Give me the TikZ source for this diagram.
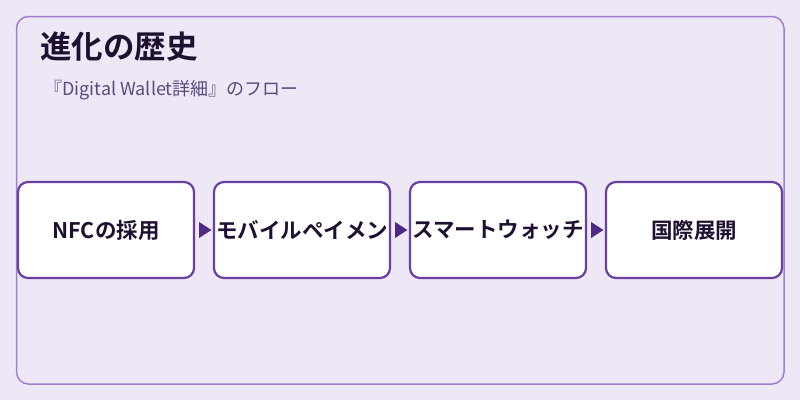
\documentclass[tikz,border=0pt]{standalone}
\usepackage{fontspec}
\setmainfont{Noto Sans CJK JP}
\newfontfamily\cjkb{Noto Sans CJK JP Bold}
\usetikzlibrary{arrows.meta}
\definecolor{bgc}{HTML}{EDE7F6}
\definecolor{framec}{HTML}{A07FD0}
\definecolor{boxc}{HTML}{6A3FA0}
\definecolor{arrc}{HTML}{4E2A84}
\definecolor{titc}{HTML}{1E1030}
\definecolor{subc}{HTML}{5A4A80}
\begin{document}
\begin{tikzpicture}[x=1pt,y=-1pt,
  stepbox/.style={draw=boxc,line width=2.2pt,fill=white,rounded corners=10pt,
    minimum width=176pt,minimum height=96pt,inner sep=0pt,
    font=\cjkb\fontsize{21.5}{24}\selectfont,text=titc},
  flowtip/.style={fill=arrc,draw=none}]
\fill[bgc] (0,0) rectangle (800,400);
\useasboundingbox (0,0) rectangle (800,400);
\draw[framec,line width=1.5pt,rounded corners=12pt] (16.5,16.5) rectangle (784,384);
\node[anchor=west,font=\cjkb\fontsize{31.5}{34}\selectfont,text=titc,inner sep=0pt] (title) at (40,47) {進化の歴史};
\node[anchor=west,font=\fontsize{18}{20}\selectfont,text=subc,inner sep=0pt] (sub) at (44,90) {『Digital Wallet詳細』のフロー};
\node[stepbox] (b1) at (106,230) {NFCの採用};
\node[stepbox] (b2) at (302,230) {モバイルペイメン};
\node[stepbox] (b3) at (498,230) {スマートウォッチ};
\node[stepbox] (b4) at (694,230) {国際展開};
\foreach \a/\b in {b1/b2,b2/b3,b3/b4}{
  \path[flowtip] ([shift={(4pt,8pt)}]\a.east) -- ([shift={(4pt,-8pt)}]\a.east) -- ([xshift=-1.5pt]\b.west) -- cycle;
}
\end{tikzpicture}
\end{document}
